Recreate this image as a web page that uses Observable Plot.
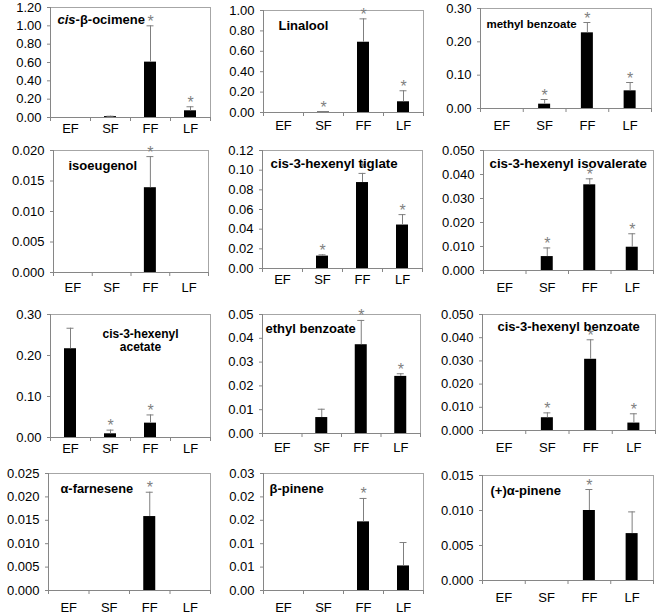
<!DOCTYPE html>
<html><head><meta charset="utf-8">
<script src="https://cdn.jsdelivr.net/npm/d3@7"></script>
<script src="https://cdn.jsdelivr.net/npm/@observablehq/plot@0.6"></script>
<style>
body{margin:0;background:#fff;}
#root{position:relative;width:660px;height:616px;overflow:hidden;background:#fff;font-family:Arial,"Liberation Sans",sans-serif;}
#root svg{position:absolute;overflow:visible;}
</style></head><body><div id="root"></div>
<script>
// ---- data ----
const categories = ["EF", "SF", "FF", "LF"];
const compounds = [
  "cis-β-ocimene", "Linalool", "methyl benzoate",
  "isoeugenol", "cis-3-hexenyl tiglate", "cis-3-hexenyl isovalerate",
  "cis-3-hexenyl\nacetate", "ethyl benzoate", "cis-3-hexenyl benzoate",
  "α-farnesene", "β-pinene", "(+)α-pinene"
];
const means = [
  [0, 0.010, 0.604, 0.073],
  [0, 0.005, 0.689, 0.105],
  [0, 0.013, 0.227, 0.053],
  [0, 0, 0.0139, 0],
  [0, 0.0126, 0.0874, 0.0442],
  [0, 0.0058, 0.0357, 0.0097],
  [0.2165, 0.009, 0.035, 0],
  [0, 0.0067, 0.0373, 0.0240],
  [0, 0.0055, 0.0307, 0.0032],
  [0, 0, 0.0158, 0],
  [0, 0, 0.0176, 0.0063],
  [0, 0, 0.0100, 0.0067]
];
const errors = [
  [0, 0.004, 0.396, 0.044],
  [0, 0.003, 0.229, 0.108],
  [0, 0.014, 0.031, 0.025],
  [0, 0, 0.0051, 0],
  [0, 0.0013, 0.0093, 0.0106],
  [0, 0.0036, 0.0025, 0.0056],
  [0.050, 0.009, 0.020, 0],
  [0, 0.0035, 0.0102, 0.0011],
  [0, 0.0021, 0.0084, 0.0040],
  [0, 0, 0.0052, 0],
  [0, 0, 0.0060, 0.0060],
  [0, 0, 0.0030, 0.0031]
];
const significant = [
  [0, 0, 1, 1],
  [0, 1, 1, 1],
  [0, 1, 1, 1],
  [0, 0, 1, 0],
  [0, 1, 1, 1],
  [0, 1, 1, 1],
  [0, 1, 1, 0],
  [0, 0, 1, 1],
  [0, 1, 1, 1],
  [0, 0, 1, 0],
  [0, 0, 1, 0],
  [0, 0, 1, 0]
];
const yMax = [1.2, 1.0, 0.3, 0.02, 0.12, 0.05, 0.3, 0.05, 0.05, 0.025, 0.03, 0.015];
const yTickLabels = [
  ["0.00", "0.20", "0.40", "0.60", "0.80", "1.00", "1.20"],
  ["0.00", "0.20", "0.40", "0.60", "0.80", "1.00"],
  ["0.00", "0.10", "0.20", "0.30"],
  ["0.000", "0.005", "0.010", "0.015", "0.020"],
  ["0.00", "0.02", "0.04", "0.06", "0.08", "0.10", "0.12"],
  ["0.000", "0.010", "0.020", "0.030", "0.040", "0.050"],
  ["0.00", "0.10", "0.20", "0.30"],
  ["0.00", "0.01", "0.02", "0.03", "0.04", "0.05"],
  ["0.000", "0.010", "0.020", "0.030", "0.040", "0.050"],
  ["0.000", "0.005", "0.010", "0.015", "0.020", "0.025"],
  ["0.00", "0.01", "0.01", "0.02", "0.02", "0.03"],
  ["0.000", "0.005", "0.010", "0.015"]
];

// ---- layout (page px): frame left, frame right, frame top, zero line, x-label centre ----
const frames = [
  [50, 210, 7, 117, 128], [263, 423, 10, 112, 125], [480, 651, 8, 108, 125],
  [53, 208, 150, 272, 287], [262, 422, 150, 268, 279], [483, 653, 150, 270, 287],
  [50, 210, 314, 437, 448], [262, 420, 314, 433, 447], [482, 655, 314, 430, 447],
  [48, 210, 473, 590, 607], [263, 423, 473, 590, 607], [482, 653, 475, 580, 597]
];
// title: x, y (page px), font size, anchor
const titlePos = [
  [57, 19, 13, "start"], [278, 25, 13, "start"], [486, 23, 11.5, "start"],
  [68, 165, 13, "start"], [270, 163, 13.3, "start"], [489, 163, 13.3, "start"],
  [140, 340, 12, "middle"], [265, 328, 13, "start"], [497, 326, 13, "start"],
  [60, 488, 12.8, "start"], [269, 488, 13, "start"], [490, 490, 13, "start"]
];

const root = document.getElementById("root");
const ML = 44, MR = 6, MT = 4, MB = 30;
const axisGray = "#868686", errGray = "#7f7f7f";

compounds.forEach((name, p) => {
  const [x0, x1, yTop, yZero, labY] = frames[p];
  const w = x1 - x0, h = yZero - yTop;
  const band = w / 4;
  const barW = 12;
  const inset = (band - barW) / 2;
  const cap = 3.5 / band;
  const labels = yTickLabels[p];
  const step = yMax[p] / (labels.length - 1);
  const tickVals = labels.map((_, k) => k * step);
  const rows = categories.map((c, i) => ({i, c, v: means[p][i], e: errors[p][i], s: significant[p][i]}));
  const bars = rows.filter(d => d.v > 0);
  const errs = rows.filter(d => d.e > 0);
  const stars = rows.filter(d => d.s);
  const [tx, ty, tfs, tanchor] = titlePos[p];

  const chart = Plot.plot({
    width: w + ML + MR, height: h + MT + MB,
    marginLeft: ML, marginRight: MR, marginTop: MT, marginBottom: MB,
    style: {fontFamily: "Arial, 'Liberation Sans', sans-serif", fontSize: "13px", color: "#000", background: "transparent", overflow: "visible"},
    x: {domain: [0, 4], label: null},
    y: {domain: [0, yMax[p]], label: null},
    marks: [
      Plot.frame({stroke: "#a6a6a6"}),
      Plot.rect(bars, {x1: d => d.i, x2: d => d.i + 1, y1: 0, y2: "v", fill: "#000", insetLeft: inset, insetRight: inset}),
      Plot.ruleX(errs, {x: d => d.i + 0.5, y1: "v", y2: d => d.v + d.e, stroke: errGray}),
      Plot.ruleY(errs, {y: d => d.v + d.e, x1: d => d.i + 0.5 - cap, x2: d => d.i + 0.5 + cap, stroke: errGray}),
      Plot.text(stars, {x: d => d.i + 0.5, y: d => d.v + d.e, text: () => "*", lineAnchor: "bottom", dy: 1, fontSize: 16, fill: errGray}),
      Plot.ruleX([0], {stroke: axisGray}),
      Plot.ruleY([0], {stroke: axisGray}),
      Plot.axisY({ticks: tickVals, tickFormat: d => labels[Math.round(d / step)], tickSize: 3, tickPadding: 6, stroke: axisGray, fill: "#000", fontSize: 13, label: null}),
      Plot.axisX({ticks: [0, 1, 2, 3, 4], tickFormat: () => "", tickSize: 4, stroke: axisGray, label: null}),
      Plot.axisX({ticks: [0.5, 1.5, 2.5, 3.5], tickFormat: d => categories[Math.floor(d)], tickSize: 0, tickPadding: labY - yZero - 4.5, fill: "#000", fontSize: 13, label: null}),
      Plot.text([name], {frameAnchor: "top-left", text: d => d, dx: tx - x0, dy: ty - yTop, lineAnchor: "middle", textAnchor: tanchor, fontWeight: "bold", fontSize: tfs, fill: "#000", lineHeight: 1.1})
    ]
  });
  chart.style.left = (x0 - ML) + "px";
  chart.style.top = (yTop - MT) + "px";
  root.appendChild(chart);

  // italic "cis" prefix for cis-β-ocimene
  if (name.startsWith("cis-β")) {
    chart.querySelectorAll("text").forEach(t => {
      if (t.textContent === name) {
        t.textContent = "";
        const ns = "http://www.w3.org/2000/svg";
        const a = document.createElementNS(ns, "tspan");
        a.setAttribute("font-style", "italic");
        a.textContent = "cis";
        const b = document.createElementNS(ns, "tspan");
        b.textContent = name.slice(3);
        t.appendChild(a); t.appendChild(b);
      }
    });
  }
});
</script>
</body></html>
